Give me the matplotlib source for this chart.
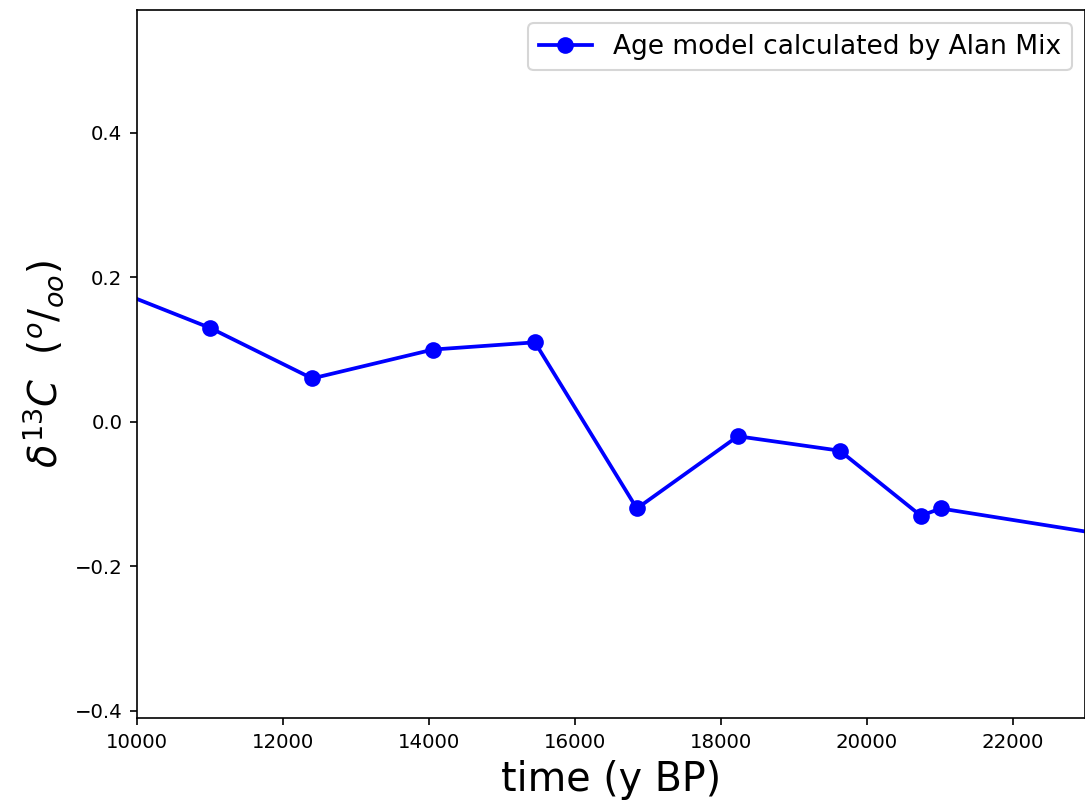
import matplotlib
matplotlib.use('Agg')
import matplotlib.pyplot as plt
import numpy as np

# age (y BP) and d13C (permil)
age = np.array([9600, 11000, 12400, 14055, 15452, 16849, 18233, 19630, 20740, 21014, 23500])
d13c = np.array([0.186, 0.13, 0.06, 0.10, 0.11, -0.12, -0.02, -0.04, -0.13, -0.12, -0.16])

fig = plt.figure(figsize=(1085/150, 808/150), dpi=150)
ax = fig.add_axes([0.1263, 0.1114, 0.8737, 0.8762])

ax.plot(age, d13c, 'bo-', lw=1.8, markersize=7, label='Age model calculated by Alan Mix')
ax.set_xlim(10000, 22990)
ax.set_ylim(-0.41, 0.57)
ax.set_yticks([-0.4, -0.2, 0.0, 0.2, 0.4])
ax.tick_params(labelsize=9.5)
ax.set_xlabel('time (y BP)', fontsize=19)
ax.set_ylabel(r'$\delta^{13}C\ \ (^o/_{oo})$', fontsize=18.5)
ax.legend(loc='upper right', fontsize=12.7)

fig.savefig('out.png', dpi=150)
